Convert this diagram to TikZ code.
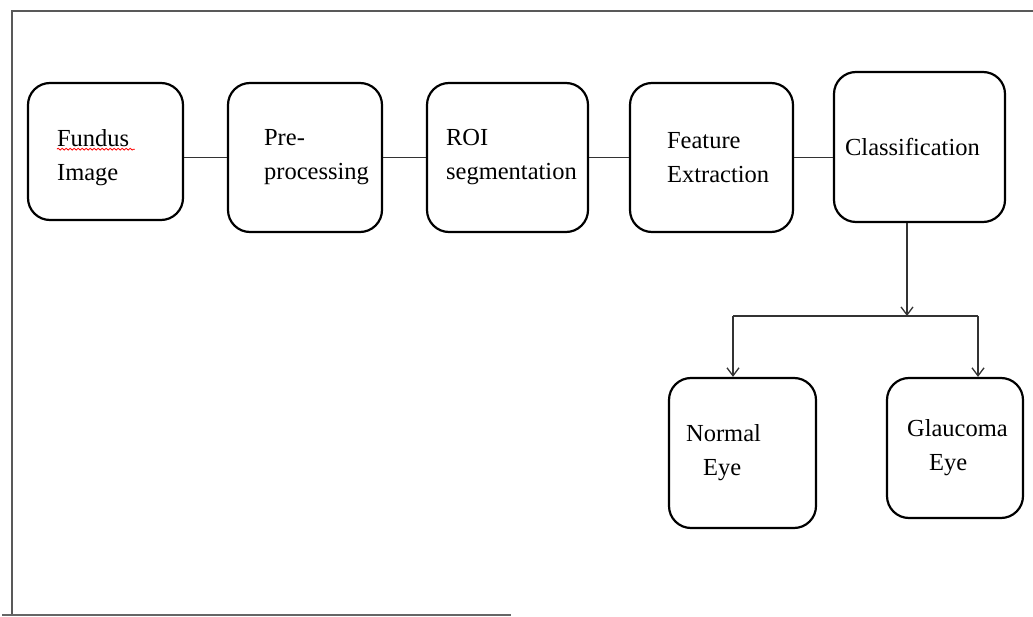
\documentclass[tikz,border=0pt]{standalone}
\usepackage{fontspec}
\setmainfont{Liberation Serif}
\usetikzlibrary{positioning, arrows.meta, decorations.pathmorphing}

\begin{document}
\begin{tikzpicture}[x=1pt, y=-1pt,
    blk/.style={draw, line width=2.2pt, rounded corners=22pt, inner sep=0pt},
    txt/.style={anchor=west, align=left, inner sep=0pt, font=\fontsize{24.5}{34}\selectfont},
    link/.style={draw=black!80, line width=1.3pt},
    arr/.style={link, -{Straight Barb[length=8pt, width=12pt]}}]
    \useasboundingbox (0,0) rectangle (1033,617);

    % page frame
    \draw[black!65, line width=2pt] (1033,11) -- (12,11) -- (12,615);
    \draw[black!60, line width=2pt] (2,615) -- (511,615);

    % pipeline boxes
    \node[blk, minimum width=155pt, minimum height=137pt] (fundus) at (105.5,151.5) {};
    \node[blk, minimum width=154pt, minimum height=149pt] (pre) at (305,157.5) {};
    \node[blk, minimum width=161pt, minimum height=149pt] (roi) at (507.5,157.5) {};
    \node[blk, minimum width=163pt, minimum height=149pt] (feat) at (711.5,157.5) {};
    \node[blk, minimum width=171pt, minimum height=150pt] (cls) at (919.5,147) {};
    \node[blk, minimum width=147pt, minimum height=150pt] (normal) at (742.5,453) {};
    \node[blk, minimum width=136pt, minimum height=140pt] (glau) at (955,448) {};

    % labels
    \node[txt, right=30pt of fundus.west, yshift=-6pt] (fundus-t) {Fundus\\Image};
    \node[txt, right=37pt of pre.west] (pre-t) {Pre-\\processing};
    \node[txt, right=20pt of roi.west] (roi-t) {ROI\\segmentation};
    \node[txt, right=38pt of feat.west] (feat-t) {Feature\\Extraction};
    \node[txt, right=12pt of cls.west] (cls-t) {Classification};
    \node[txt, right=18pt of normal.west] (normal-t) {Normal\\\hspace*{17pt}Eye};
    \node[txt, right=21pt of glau.west] (glau-t) {Glaucoma\\\hspace*{22pt}Eye};

    % spell-check underline
    \draw[red, line width=0.8pt, decorate, decoration={snake, amplitude=0.9pt, segment length=4pt}]
        ([yshift=-20pt]fundus-t.north west) -- ++(78,0);

    % connectors
    \draw[link] (fundus.east |- pre.west) -- (pre.west);
    \draw[link] (pre) -- (roi);
    \draw[link] (roi) -- (feat);
    \draw[link] (feat.east) -- (feat.east -| cls.west);

    \coordinate (split) at (907,316);
    \coordinate (lft) at (733,316);
    \coordinate (rgt) at (978,316);
    \draw[arr] (cls.south -| split) -- (split);
    \draw[link] (lft) -- (rgt);
    \draw[arr] (lft) -- (lft |- normal.north);
    \draw[arr] (rgt) -- (rgt |- glau.north);
\end{tikzpicture}
\end{document}
